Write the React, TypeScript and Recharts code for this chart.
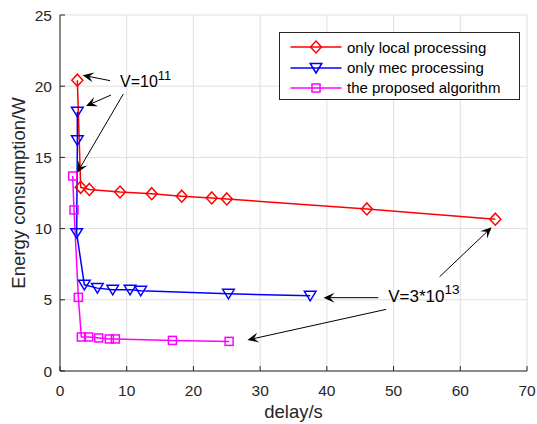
import {
  LineChart, Line, XAxis, YAxis, CartesianGrid, Legend, ReferenceLine, ReferenceDot,
} from "recharts"

// delay (s) / energy (W) for each scheme
const localDelay = [2.6, 3.1, 4.4, 9.0, 13.75, 18.25, 22.75, 25.0, 46.0, 65.25]
const localEnergy = [20.42, 12.9, 12.75, 12.57, 12.45, 12.28, 12.15, 12.08, 11.38, 10.66]
const mecDelay = [2.6, 2.6, 2.5, 3.65, 5.6, 7.9, 10.5, 12.1, 25.25, 37.5]
const mecEnergy = [18.2, 16.2, 9.68, 6.05, 5.82, 5.7, 5.7, 5.63, 5.42, 5.28]
const propDelay = [1.9, 2.1, 2.75, 3.2, 4.3, 5.8, 7.4, 8.3, 16.85, 25.35]
const propEnergy = [13.69, 11.31, 5.17, 2.39, 2.39, 2.32, 2.25, 2.25, 2.15, 2.08]

const xTicks = [0, 10, 20, 30, 40, 50, 60, 70]
const yTicks = [0, 5, 10, 15, 20, 25]

// annotation arrows: [tailX, tailY, headX, headY] in data units
const arrows = [
  [7.5, 20.39, 3.4, 20.77],
  [7.64, 19.38, 3.9, 18.61],
  [9.49, 19.45, 2.59, 13.93],
  [47.7, 5.15, 39.5, 5.15],
  [48.9, 4.33, 28.1, 2.18],
  [56.9, 6.62, 64.7, 10.09],
]

const zip = (xs: number[], ys: number[]) => xs.map((x, i) => ({ x, y: ys[i] }))

const localData = zip(localDelay, localEnergy)
const mecData = zip(mecDelay, mecEnergy)
const propData = zip(propDelay, propEnergy)

const FONT = "'Liberation Sans', Arial, Helvetica, sans-serif"
const AXIS = "#262626"
const GRID = "#dfdfdf"

const SERIES = [
  { name: "only local processing", color: "#ff0000", shape: "diamond" },
  { name: "only mec processing", color: "#0000ff", shape: "triangle" },
  { name: "the proposed algorithm", color: "#ff00ff", shape: "square" },
]

function Marker({ cx, cy, shape, color }: { cx: number; cy: number; shape: string; color: string }) {
  const common = { fill: "none", stroke: color, strokeWidth: 1.5 }
  if (shape === "diamond") {
    return <polygon points={`${cx},${cy - 6} ${cx + 5.5},${cy} ${cx},${cy + 6} ${cx - 5.5},${cy}`} {...common} />
  }
  if (shape === "triangle") {
    return <polygon points={`${cx - 5.8},${cy - 4.5} ${cx + 5.8},${cy - 4.5} ${cx},${cy + 5}`} {...common} />
  }
  return <rect x={cx - 4} y={cy - 4} width={8} height={8} {...common} />
}

const dotFor = (shape: string, color: string) => (p: any) => (
  <Marker key={`m-${p.index}`} cx={p.cx} cy={p.cy} shape={shape} color={color} />
)

function Arrow(p: any) {
  const { x1, y1, x2, y2 } = p
  const dx = x2 - x1
  const dy = y2 - y1
  const len = Math.sqrt(dx * dx + dy * dy) || 1
  const ux = dx / len
  const uy = dy / len
  const nx = -uy
  const ny = ux
  const L = 11
  const W = 5
  const bx = x2 - ux * L
  const by = y2 - uy * L
  const mx = x2 - ux * L * 0.6
  const my = y2 - uy * L * 0.6
  return (
    <g>
      <line x1={x1} y1={y1} x2={mx} y2={my} stroke="#000" strokeWidth={1} />
      <polygon
        points={`${x2},${y2} ${bx + nx * W},${by + ny * W} ${mx},${my} ${bx - nx * W},${by - ny * W}`}
        fill="#000"
      />
    </g>
  )
}

const annotation = (base: string, sup: string, size: number) => (p: any) => (
  <text x={p.cx} y={p.cy} fontFamily={FONT} fontSize={size} fill="#000">
    {base}
    <tspan fontSize={size * 0.8} dy={-size * 0.45}>{sup}</tspan>
  </text>
)

const TICK_GAP_X = 12
const TICK_GAP_Y = 8
const TICK_LEN = 5

function BottomTick({ x, y, payload }: any) {
  const axisY = y - TICK_GAP_X
  return (
    <g>
      <line x1={x} x2={x} y1={axisY} y2={axisY - TICK_LEN} stroke={AXIS} />
      <text x={x} y={y} dy={13} textAnchor="middle" fontFamily={FONT} fontSize={15.5} fill={AXIS}>
        {payload.value}
      </text>
    </g>
  )
}

function LeftTick({ x, y, payload }: any) {
  const axisX = x + TICK_GAP_Y
  return (
    <g>
      <line x1={axisX} x2={axisX + TICK_LEN} y1={y} y2={y} stroke={AXIS} />
      <text x={x} y={y} dy={5.5} textAnchor="end" fontFamily={FONT} fontSize={15.5} fill={AXIS}>
        {payload.value}
      </text>
    </g>
  )
}

function TopTick({ x, y }: any) {
  return <line x1={x} x2={x} y1={y} y2={y + TICK_LEN} stroke={AXIS} />
}

function RightTick({ x, y }: any) {
  return <line x1={x} x2={x - TICK_LEN} y1={y} y2={y} stroke={AXIS} />
}

function LegendBox() {
  return (
    <div
      style={{
        border: `1px solid ${AXIS}`,
        background: "#fff",
        boxSizing: "border-box",
        height: 68,
        paddingTop: 4,
        fontFamily: FONT,
        fontSize: 15,
        color: "#000",
      }}
    >
      {SERIES.map(s => (
        <div key={s.name} style={{ height: 20.4, display: "flex", alignItems: "center" }}>
          <svg width={66} height={20} style={{ flex: "none" }}>
            <line x1={10.5} x2={61.5} y1={10} y2={10} stroke={s.color} strokeWidth={1.5} />
            <Marker cx={36} cy={10} shape={s.shape} color={s.color} />
          </svg>
          <span style={{ marginLeft: 1, whiteSpace: "nowrap" }}>{s.name}</span>
        </div>
      ))}
    </div>
  )
}

export default function App() {
  return (
    <div style={{ position: "absolute", left: 0, top: 0, background: "#fff" }}>
      <LineChart width={537} height={424} margin={{ top: 15, right: 10, bottom: 0, left: 0 }}>
        <CartesianGrid stroke={GRID} strokeWidth={1} />
        <XAxis
          type="number"
          dataKey="x"
          domain={[0, 70]}
          ticks={xTicks}
          allowDataOverflow
          height={53}
          tickSize={0}
          tickMargin={TICK_GAP_X}
          tickLine={false}
          axisLine={{ stroke: AXIS }}
          tick={<BottomTick />}
          label={{
            content: (lp: any) => {
              const vb = lp.viewBox || { x: 60, width: 467, y: 371 }
              return (
                <text x={vb.x + vb.width / 2} y={418} textAnchor="middle" fontFamily={FONT} fontSize={18.5} fill={AXIS}>
                  delay/s
                </text>
              )
            },
          }}
        />
        <XAxis
          xAxisId="top"
          orientation="top"
          type="number"
          domain={[0, 70]}
          ticks={xTicks}
          height={0}
          tickSize={0}
          tickLine={false}
          axisLine={{ stroke: AXIS }}
          tick={<TopTick />}
        />
        <YAxis
          type="number"
          domain={[0, 25]}
          ticks={yTicks}
          allowDataOverflow
          width={60}
          tickSize={0}
          tickMargin={TICK_GAP_Y}
          tickLine={false}
          axisLine={{ stroke: AXIS }}
          tick={<LeftTick />}
          label={{
            content: (lp: any) => {
              const vb = lp.viewBox || { y: 15, height: 356 }
              const cy = vb.y + vb.height / 2
              return (
                <text
                  x={25}
                  y={cy}
                  transform={`rotate(-90 25 ${cy})`}
                  textAnchor="middle"
                  fontFamily={FONT}
                  fontSize={18.5}
                  fill={AXIS}
                >
                  Energy consumption/W
                </text>
              )
            },
          }}
        />
        <YAxis
          yAxisId="right"
          orientation="right"
          type="number"
          domain={[0, 25]}
          ticks={yTicks}
          width={0}
          tickSize={0}
          tickLine={false}
          axisLine={{ stroke: AXIS }}
          tick={<RightTick />}
        />
        <Line
          data={localData}
          dataKey="y"
          name={SERIES[0].name}
          stroke={SERIES[0].color}
          strokeWidth={1.5}
          dot={dotFor(SERIES[0].shape, SERIES[0].color)}
          isAnimationActive={false}
        />
        <Line
          data={mecData}
          dataKey="y"
          name={SERIES[1].name}
          stroke={SERIES[1].color}
          strokeWidth={1.5}
          dot={dotFor(SERIES[1].shape, SERIES[1].color)}
          isAnimationActive={false}
        />
        <Line
          data={propData}
          dataKey="y"
          name={SERIES[2].name}
          stroke={SERIES[2].color}
          strokeWidth={1.5}
          dot={dotFor(SERIES[2].shape, SERIES[2].color)}
          isAnimationActive={false}
        />
        {arrows.map((a, i) => (
          <ReferenceLine
            key={`arrow-${i}`}
            segment={[{ x: a[0], y: a[1] }, { x: a[2], y: a[3] }]}
            shape={Arrow}
            ifOverflow="visible"
          />
        ))}
        <ReferenceDot x={9.0} y={19.94} ifOverflow="visible" shape={annotation("V=10", "11", 16)} />
        <ReferenceDot x={49.2} y={4.85} ifOverflow="visible" shape={annotation("V=3*10", "13", 17)} />
        <Legend
          layout="vertical"
          align="center"
          verticalAlign="middle"
          wrapperStyle={{ left: 279, top: 32, width: 241 }}
          content={() => <LegendBox />}
        />
      </LineChart>
    </div>
  )
}
